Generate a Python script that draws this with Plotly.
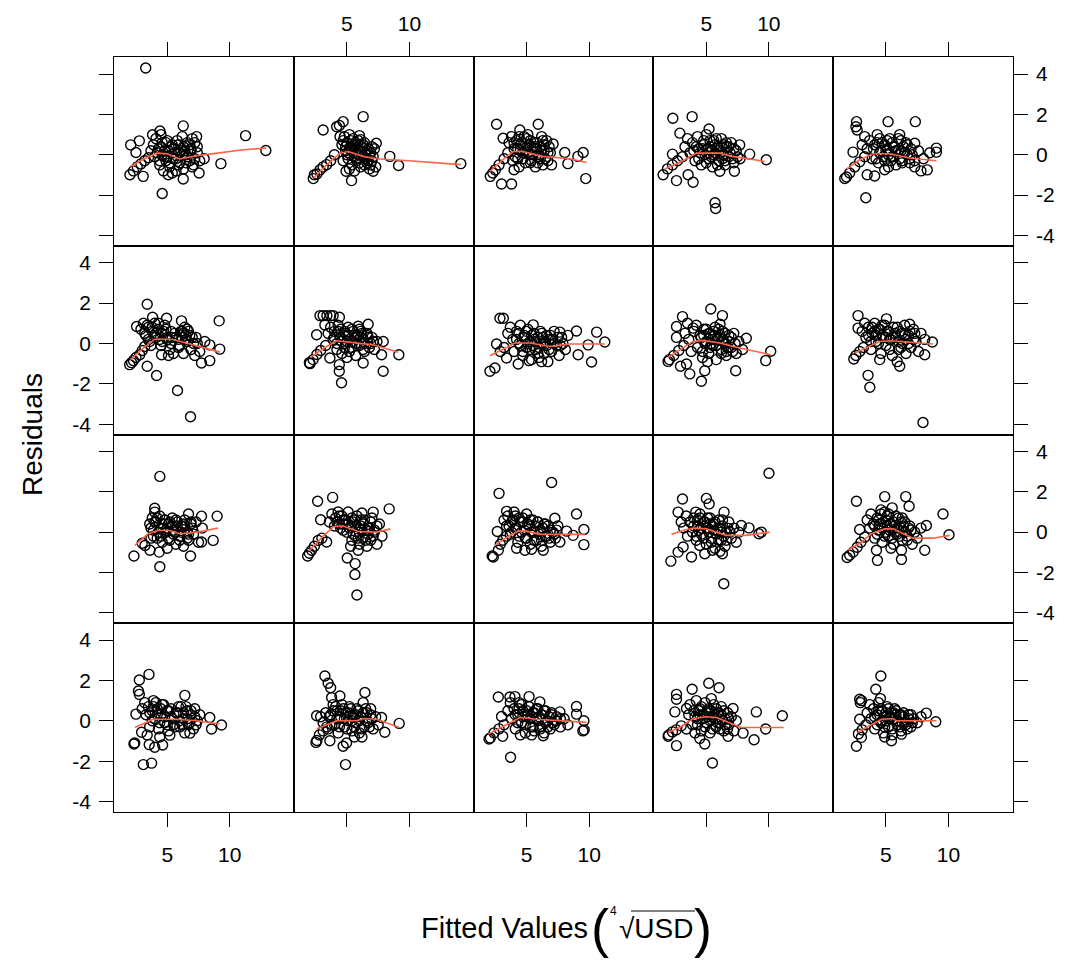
import plotly.graph_objects as go

# ---------------- data: (fitted, residual) pairs per panel ----------------
pts_r1c1 = [(3.28,4.30),(6.28,1.43),(11.26,0.95),(12.88,0.21),(9.29,-0.44),(4.6,-1.92),(2.08,0.49),(2.77,0.69),(2.5,0.11),(2.02,-0.99),(3.08,-1.07),(2.3,-0.8),(3.83,0.99),(4.42,1.18),(7.35,0.9),(7.95,-0.2),(7.55,-0.9),(6.28,-1.2),(5.08,-0.99),
            (2.6,-0.6),(2.9,-0.45),(3.2,-0.3),(3.5,-0.15),
            (3.9,0.5),(4.1,0.8),(4.3,0.3),(4.5,1.0),(4.6,0.6),(4.8,0.2),(4.9,-0.3),(5.0,0.7),(5.2,-0.6),(5.3,0.4),(5.5,-0.2),(5.6,0.1),(5.7,-0.8),(5.9,0.5),(6.0,-0.4),(6.1,0.2),(6.3,-0.7),(6.5,0.0),(6.6,0.6),(6.8,-0.3),(6.9,0.3),(7.1,-0.5),(7.2,0.6),(7.4,0.1),(7.6,-0.3),(4.4,-0.5),(4.0,-0.1),(5.4,-0.9),(6.2,0.9),(7.0,0.8),(4.7,-0.8),(3.7,0.2)]
pts_r1c2 = [(6.3,1.89),(3.1,1.23),(4.7,1.64),(4.18,1.39),(4.45,0.9),(14.1,-0.44),(9.13,-0.53),(8.43,-0.08),(7.35,0.57),(2.31,-1.18),(2.4,-0.99),(3.38,-0.49),(4.93,-0.82),(5.37,-1.28),(7.1,-0.82),(4.4,1.45),
            (2.6,-0.95),(2.85,-0.75),(3.1,-0.6),(3.7,-0.3),(4.0,0.0),
            (4.6,0.5),(4.8,0.9),(4.9,0.2),(5.0,0.6),(5.1,-0.2),(5.2,1.0),(5.3,0.4),(5.4,-0.5),(5.5,0.8),(5.6,0.1),(5.7,0.5),(5.8,-0.3),(5.9,0.7),(6.0,0.2),(6.1,-0.6),(6.2,0.4),(6.3,-0.1),(6.4,0.6),(6.5,0.0),(6.6,-0.4),(6.7,0.3),(6.8,-0.7),(6.9,0.1),(7.0,-0.3),(7.2,0.3),(7.3,-0.6),(5.2,-0.7),(4.7,-0.3),(6.0,0.95),(5.6,-0.8)]
pts_r1c3 = [(2.6,1.51),(5.93,1.51),(2.1,-1.07),(3.0,-1.45),(3.8,-1.45),(4.0,-0.74),(3.13,0.82),(4.46,1.23),(7.12,0.53),(8.05,0.11),(9.52,0.11),(9.73,-1.18),(8.3,-0.44),(9.1,-0.08),(2.3,-0.9),(2.5,-0.75),
            (2.8,-0.5),(3.2,-0.2),(3.5,0.1),
            (3.6,0.6),(3.8,0.9),(4.0,0.3),(4.2,0.7),(4.3,-0.2),(4.5,0.5),(4.7,0.1),(4.8,0.9),(4.9,-0.4),(5.0,0.4),(5.2,0.0),(5.3,0.7),(5.4,-0.3),(5.6,0.3),(5.7,-0.6),(5.8,0.6),(6.0,-0.1),(6.1,0.4),(6.3,-0.5),(6.4,0.2),(6.6,0.7),(6.7,-0.3),(6.9,0.1),(7.0,-0.5),(5.1,1.0),(4.4,-0.6),(6.2,0.9),(3.9,-0.3)]
pts_r1c4 = [(2.33,1.81),(3.87,1.89),(5.22,1.28),(5.7,-2.38),(5.75,-2.66),(1.55,-0.99),(2.62,-1.28),(3.95,-1.36),(3.55,-0.99),(9.8,-0.25),(8.47,0.03),(7.67,0.49),(2.89,1.07),(2.3,0.03),(6.08,-0.82),(7.25,-0.82),
            (1.9,-0.7),(2.3,-0.5),(2.7,-0.3),(3.1,-0.1),
            (3.3,0.4),(3.5,0.8),(3.7,0.1),(3.9,0.6),(4.1,-0.3),(4.3,0.9),(4.4,0.3),(4.6,-0.5),(4.8,0.5),(4.9,0.0),(5.0,1.0),(5.2,-0.2),(5.3,0.4),(5.5,-0.6),(5.6,0.7),(5.7,0.1),(5.9,0.4),(6.0,-0.3),(6.2,0.8),(6.3,0.0),(6.5,-0.5),(6.6,0.4),(6.8,-0.1),(7.0,0.6),(7.2,-0.4),(7.4,0.2),(7.7,-0.2),(4.0,0.2),(5.4,0.2),(6.4,0.5)]
pts_r1c5 = [(2.65,1.64),(2.6,1.39),(2.7,1.23),(5.17,1.64),(7.35,1.64),(3.39,-2.13),(1.71,-1.18),(1.85,-1.1),(2.37,0.13),(3.5,-0.99),(4.1,-1.05),(4.9,-0.74),(9.03,0.33),(9.03,0.13),(7.8,-0.8),(8.3,-0.75),(7.3,0.57),
            (2.1,-0.9),(2.5,-0.6),(2.9,-0.35),(3.3,-0.1),
            (3.1,0.5),(3.3,0.9),(3.5,0.3),(3.7,0.7),(3.9,-0.2),(4.1,0.5),(4.3,1.0),(4.5,0.1),(4.7,0.6),(4.9,-0.3),(5.1,0.3),(5.3,0.8),(5.5,-0.1),(5.6,0.4),(5.8,-0.5),(6.0,0.2),(6.2,0.7),(6.3,-0.3),(6.5,0.1),(6.7,0.5),(6.9,-0.4),(7.1,0.0),(7.3,-0.6),(7.6,0.2),(8.0,-0.2),(5.2,-0.6),(4.4,-0.4),(6.1,1.0),(8.5,0.1)]

pts_r2c1 = [(3.4,1.94),(9.15,1.12),(4.15,-1.59),(3.4,-1.13),(5.82,-2.33),(6.86,-3.63),(2.0,-1.05),(2.15,-0.95),(2.3,-0.85),(2.5,-0.7),(2.8,-0.56),(3.83,1.3),(6.14,1.12),(4.95,1.25),(2.55,0.84),(8.4,-0.85),(7.74,-0.97),(9.2,-0.28),(8.4,-0.07),(4.55,-0.56),
            (3.0,-0.35),(3.2,-0.15),
            (2.9,0.7),(3.1,1.0),(3.3,0.4),(3.5,0.8),(3.6,0.1),(3.8,0.6),(4.0,1.0),(4.1,0.3),(4.3,0.7),(4.5,-0.1),(4.6,0.5),(4.8,0.9),(5.0,0.2),(5.2,-0.3),(5.3,0.6),(5.5,-0.5),(5.7,0.3),(5.9,-0.2),(6.1,0.6),(6.2,0.3),(6.4,0.8),(6.5,0.4),(6.6,0.1),(6.7,0.6),(6.9,-0.3),(7.0,0.3),(7.2,-0.6),(7.4,0.0),(7.6,-0.4),(8.0,0.1),(6.3,-0.5),(5.1,-0.6)]
pts_r2c2 = [(2.85,1.38),(3.1,1.38),(3.4,1.38),(3.7,1.38),(3.9,1.38),(4.4,1.3),(6.7,0.95),(4.57,-1.95),(4.39,-1.38),(4.39,-1.05),(7.9,-1.38),(9.15,-0.56),(2.05,-1.0),(2.0,-0.95),(2.3,-0.8),(2.58,0.43),(3.24,0.92),(3.64,-0.72),(6.3,-0.97),(7.9,0.1),(7.77,-0.56),
            (2.6,-0.55),(2.9,-0.35),(3.3,-0.1),
            (3.5,0.5),(3.7,0.8),(3.9,0.2),(4.0,0.6),(4.2,-0.3),(4.3,0.9),(4.5,0.3),(4.6,-0.5),(4.8,0.6),(4.9,0.0),(5.1,0.4),(5.2,-0.4),(5.4,0.7),(5.5,0.1),(5.7,-0.6),(5.8,0.4),(6.0,-0.1),(6.1,0.6),(6.3,0.2),(6.4,-0.4),(6.6,0.4),(6.8,-0.2),(7.0,0.3),(7.2,-0.3),(7.4,0.1),(5.0,-0.7),(5.9,0.85)]
pts_r2c3 = [(2.87,1.25),(3.14,1.25),(2.07,-1.38),(2.47,-1.22),(2.6,-0.03),(4.33,-1.02),(3.4,-0.72),(5.53,0.92),(7.66,0.56),(8.99,0.62),(10.6,0.56),(11.25,0.07),(9.12,-0.56),(10.19,-0.92),(9.92,-0.07),(7.9,0.0),
            (2.9,-0.4),(3.2,-0.2),
            (3.5,0.5),(3.7,0.8),(3.9,0.2),(4.0,-0.4),(4.2,0.6),(4.4,0.0),(4.5,0.9),(4.7,-0.6),(4.8,0.4),(5.0,-0.2),(5.1,0.7),(5.3,0.1),(5.4,-0.8),(5.6,0.5),(5.7,-0.3),(5.9,0.3),(6.0,-0.7),(6.1,0.6),(6.3,0.0),(6.4,-0.5),(6.6,0.4),(6.7,-0.9),(6.9,0.2),(7.0,-0.4),(7.2,0.6),(7.4,-0.1),(7.6,-0.6),(7.8,0.3),(8.1,-0.3),(8.3,0.4),(6.2,-0.9),(5.2,-0.85)]
pts_r2c4 = [(5.36,1.71),(3.1,1.33),(6.29,1.38),(2.62,0.84),(2.62,0.3),(1.95,-0.89),(2.05,-0.8),(2.94,-1.13),(3.68,-1.51),(4.61,-1.87),(4.88,-1.35),(3.42,-1.02),(7.35,-1.35),(9.75,-0.85),(10.15,-0.39),(8.2,0.26),(3.95,0.76),
            (2.4,-0.6),(2.8,-0.35),(3.2,-0.1),
            (3.3,0.5),(3.5,1.0),(3.6,0.2),(3.8,-0.4),(4.0,0.6),(4.2,0.9),(4.3,-0.2),(4.5,0.4),(4.7,-0.7),(4.8,0.7),(5.0,0.1),(5.2,-0.5),(5.3,0.5),(5.5,-0.1),(5.7,0.8),(5.8,-0.8),(6.0,0.3),(6.2,-0.3),(6.3,0.6),(6.5,0.0),(6.6,-0.6),(6.8,0.4),(7.0,-0.2),(7.2,0.5),(7.4,-0.5),(7.6,0.1),(7.9,-0.3),(6.1,0.95),(5.1,-0.9)]
pts_r2c5 = [(2.77,1.38),(2.77,0.76),(3.57,-1.58),(3.71,-2.17),(7.96,-3.92),(2.43,-0.77),(8.71,0.07),(8.1,-0.56),(5.04,1.22),(6.9,0.95),(6.1,-1.13),
            (2.6,-0.6),(2.9,-0.4),(3.2,-0.2),
            (3.1,0.6),(3.3,1.0),(3.4,0.3),(3.6,0.8),(3.8,-0.3),(3.9,0.5),(4.1,1.0),(4.2,0.1),(4.4,0.7),(4.6,-0.5),(4.7,0.4),(4.9,0.9),(5.0,-0.1),(5.2,0.6),(5.3,0.2),(5.5,-0.6),(5.6,0.8),(5.8,0.3),(6.0,-0.3),(6.1,0.6),(6.3,0.0),(6.5,0.9),(6.6,-0.5),(6.8,0.4),(7.0,-0.2),(7.2,0.7),(7.4,0.1),(7.6,-0.4),(7.8,0.5),(8.1,0.2),(4.5,-0.8),(5.9,-0.9)]

pts_r3c1 = [(4.41,2.76),(2.34,-1.18),(4.41,-1.72),(6.86,-1.18),(8.67,-0.41),(8.99,0.79),(6.7,0.9),(7.74,0.79),(4.0,1.18),(4.0,0.99),(4.36,-0.99),(3.62,-0.9),(3.22,-0.66),(7.74,-0.49),(3.0,-0.55),
            (3.6,0.4),(3.8,0.7),(3.9,0.1),(4.1,0.5),(4.2,-0.3),(4.4,0.8),(4.5,0.2),(4.6,-0.5),(4.8,0.6),(4.9,0.0),(5.1,0.4),(5.2,-0.4),(5.4,0.7),(5.5,0.1),(5.7,-0.6),(5.8,0.5),(6.0,-0.2),(6.1,0.3),(6.3,-0.7),(6.4,0.6),(6.6,0.0),(6.7,-0.4),(6.9,0.4),(7.1,-0.1),(7.3,0.5),(7.5,-0.5),(7.8,0.2),(5.0,-0.8),(3.7,-0.3)]
pts_r3c2 = [(2.66,1.53),(3.86,1.72),(8.38,1.15),(2.9,0.61),(1.86,-1.18),(2.18,-0.9),(3.38,-0.49),(2.71,-0.41),(5.03,-1.28),(5.66,-1.56),(5.64,-2.1),(5.8,-3.12),(7.1,0.99),(5.9,-0.9),(2.0,-1.05),
            (2.4,-0.7),(3.0,-0.3),
            (3.6,0.5),(3.8,0.9),(4.0,0.3),(4.1,0.7),(4.3,1.0),(4.4,0.4),(4.6,0.8),(4.7,0.1),(4.9,0.6),(5.1,1.0),(5.2,0.2),(5.4,-0.4),(5.5,0.5),(5.7,-0.2),(5.8,0.8),(6.0,-0.6),(6.1,0.3),(6.3,-0.3),(6.4,0.6),(6.6,-0.7),(6.7,0.2),(6.9,-0.4),(7.0,0.7),(7.2,0.0),(7.4,-0.6),(7.6,0.4),(7.8,-0.2),(6.2,0.95),(5.3,-0.7)]
pts_r3c3 = [(7.0,2.46),(2.8,1.92),(2.66,0.03),(2.34,-1.23),(2.25,-1.18),(2.74,-0.9),(4.87,-0.9),(6.33,-0.9),(7.26,0.69),(3.4,1.03),(8.99,0.9),(9.58,0.13),(9.58,-0.62),(8.72,-0.16),(8.2,0.05),(7.66,-0.49),
            (2.9,-0.6),(3.1,-0.4),(3.4,-0.2),
            (3.2,0.6),(3.4,0.3),(3.5,0.8),(3.7,-0.1),(3.8,0.5),(4.0,1.0),(4.1,0.2),(4.3,-0.5),(4.4,0.7),(4.6,0.0),(4.7,0.5),(4.9,-0.3),(5.0,0.9),(5.2,0.3),(5.3,-0.6),(5.5,0.6),(5.6,0.0),(5.8,-0.4),(5.9,0.5),(6.1,0.1),(6.2,-0.7),(6.4,0.4),(6.5,-0.2),(6.7,0.3),(6.9,-0.5),(7.1,0.0),(7.3,-0.3),(7.5,0.3),(5.4,-0.85),(4.2,-0.8)]
pts_r3c4 = [(10.01,2.92),(3.1,1.64),(5.01,1.67),(5.23,1.4),(2.17,-1.44),(3.82,-1.23),(4.88,-1.07),(6.4,-2.56),(6.29,-1.07),(2.75,0.99),(4.16,0.99),(6.42,0.99),(7.8,0.33),(8.41,0.21),(9.2,-0.08),(9.4,0.0),(2.75,-0.99),(3.15,-0.74),(4.48,-0.66),
            (3.0,0.5),(3.2,0.2),(3.4,0.8),(3.5,-0.2),(3.7,0.5),(3.9,0.0),(4.0,0.7),(4.2,-0.4),(4.3,0.3),(4.5,0.9),(4.6,-0.1),(4.8,0.5),(5.0,-0.6),(5.1,0.2),(5.3,0.7),(5.4,-0.3),(5.6,0.4),(5.7,-0.8),(5.9,0.1),(6.0,0.6),(6.2,-0.4),(6.3,0.3),(6.5,-0.7),(6.6,0.0),(6.8,0.5),(7.0,-0.3),(7.2,0.2),(7.4,-0.5),(7.6,0.0),(6.1,-0.95),(5.5,-0.9)]
pts_r3c5 = [(2.64,1.53),(4.9,1.76),(6.58,1.76),(6.85,1.28),(9.56,0.9),(10.04,-0.13),(1.9,-1.26),(2.38,-0.99),(4.32,-1.4),(6.24,-1.35),(8.1,-0.9),(8.23,0.33),(2.9,0.13),(4.24,-0.9),(6.24,-0.9),(2.1,-1.15),
            (2.7,-0.75),(3.0,-0.5),(3.3,-0.25),
            (3.5,0.6),(3.7,0.2),(3.8,0.9),(4.0,0.4),(4.1,-0.3),(4.3,0.7),(4.4,0.1),(4.6,1.1),(4.7,-0.5),(4.8,0.5),(5.0,0.0),(5.1,0.8),(5.2,-0.2),(5.3,0.4),(5.5,1.2),(5.6,-0.6),(5.7,0.3),(5.9,-0.1),(6.0,0.7),(6.2,0.2),(6.3,-0.4),(6.5,0.5),(6.7,-0.2),(6.9,0.3),(7.1,-0.6),(7.3,0.0),(7.5,-0.3),(7.8,0.2),(5.4,-0.8),(4.9,1.0)]

pts_r4c1 = [(3.54,2.3),(2.77,2.02),(2.7,1.48),(2.77,1.31),(6.41,1.26),(2.5,0.33),(2.34,-1.15),(2.4,-1.1),(3.09,-2.17),(3.75,-2.1),(3.56,-1.18),(4.0,-1.31),(4.63,-1.2),(8.4,0.16),(8.54,-0.41),(9.34,-0.21),(6.81,-0.61),(5.21,-0.71),(2.95,-0.57),
            (3.0,0.6),(3.2,0.9),(3.3,0.3),(3.5,0.7),(3.6,-0.3),(3.8,0.5),(3.9,1.0),(4.0,0.1),(4.2,0.6),(4.3,-0.4),(4.5,0.3),(4.6,0.8),(4.8,-0.1),(5.0,0.5),(5.1,-0.5),(5.3,0.2),(5.5,-0.2),(5.8,0.4),(6.0,-0.3),(6.1,0.7),(6.3,0.1),(6.4,-0.6),(6.6,0.5),(6.7,-0.2),(6.9,0.3),(7.1,-0.4),(7.2,0.6),(7.4,0.0),(7.6,0.3),(3.4,-0.7),(4.4,-0.8)]
pts_r4c2 = [(3.24,2.22),(3.5,1.86),(3.7,1.64),(3.78,1.15),(4.44,1.23),(6.44,1.4),(4.89,-2.17),(2.53,-1.07),(2.6,-0.98),(3.64,-0.99),(4.7,-1.26),(4.97,-1.1),(8.03,-0.57),(9.18,-0.13),(7.77,0.16),(2.58,0.25),
            (2.8,-0.7),(3.1,-0.5),(3.4,-0.3),
            (2.9,0.2),(3.1,-0.1),(3.3,0.4),(3.5,-0.4),(3.7,0.3),(3.9,0.8),(4.0,-0.2),(4.2,0.5),(4.3,-0.6),(4.5,0.2),(4.6,0.8),(4.8,-0.3),(4.9,0.4),(5.1,0.0),(5.2,0.7),(5.4,-0.5),(5.5,0.3),(5.7,-0.1),(5.8,0.6),(6.0,-0.6),(6.1,0.2),(6.3,0.9),(6.4,-0.3),(6.6,0.4),(6.7,-0.1),(6.9,0.6),(7.1,-0.4),(7.3,0.2),(7.5,-0.2),(5.6,-0.8),(6.2,-0.8)]
pts_r4c3 = [(2.74,1.18),(4.07,1.2),(3.67,1.18),(5.2,1.2),(2.0,-0.9),(2.1,-0.85),(3.09,-0.77),(3.72,-1.81),(6.06,0.94),(7.66,0.44),(8.99,0.71),(8.99,0.33),(9.58,0.0),(9.6,-0.45),(9.5,-0.5),(3.0,0.21),(6.33,-0.74),
            (2.4,-0.6),(2.8,-0.4),(3.2,-0.2),
            (3.5,0.5),(3.7,0.9),(3.8,0.1),(4.0,0.6),(4.1,-0.4),(4.3,0.3),(4.4,0.9),(4.6,-0.1),(4.7,0.5),(4.9,-0.6),(5.0,0.2),(5.2,0.7),(5.3,-0.3),(5.5,0.4),(5.6,-0.5),(5.8,0.1),(5.9,0.6),(6.1,-0.3),(6.2,0.3),(6.4,-0.6),(6.5,0.5),(6.7,0.0),(6.9,-0.4),(7.0,0.3),(7.2,-0.2),(7.4,0.2),(7.7,-0.3),(8.0,0.1),(8.3,-0.2),(5.4,-0.7),(4.5,-0.7)]
pts_r4c4 = [(5.2,1.86),(6.02,1.64),(3.87,1.56),(2.62,1.31),(2.62,1.07),(2.49,0.44),(1.95,-0.77),(2.0,-0.7),(2.62,-1.23),(4.88,-1.15),(5.49,-2.09),(4.48,-0.87),(6.74,-0.77),(9.0,0.44),(8.82,-0.94),(9.75,-0.41),(11.08,0.25),(7.94,-0.61),(7.14,0.61),(3.42,0.61),(3.42,-0.41),
            (2.3,-0.55),(2.6,-0.45),(3.0,-0.25),
            (3.6,0.3),(3.7,0.8),(3.9,-0.2),(4.0,0.5),(4.2,1.0),(4.3,0.1),(4.5,0.6),(4.6,-0.5),(4.8,0.3),(4.9,0.9),(5.0,-0.1),(5.2,0.5),(5.3,-0.6),(5.5,0.2),(5.6,0.8),(5.8,-0.3),(5.9,0.4),(6.1,-0.1),(6.2,0.7),(6.4,-0.5),(6.5,0.1),(6.7,0.4),(6.8,-0.2),(7.0,0.2),(7.2,-0.5),(7.4,0.0),(5.4,1.1),(4.1,-0.6)]
pts_r4c5 = [(4.59,2.22),(4.19,1.56),(2.9,1.07),(2.95,0.9),(3.05,1.0),(4.56,1.1),(2.64,-1.26),(2.9,0.08),(3.04,-0.82),(8.23,0.38),(8.98,-0.05),(5.44,-0.99),(6.24,-0.66),
            (2.8,-0.65),(3.1,-0.45),(3.4,-0.2),
            (3.5,0.4),(3.7,0.8),(3.8,0.1),(4.0,0.6),(4.1,-0.4),(4.3,0.3),(4.4,0.9),(4.6,-0.1),(4.7,0.5),(4.8,-0.6),(5.0,0.2),(5.1,0.7),(5.2,-0.3),(5.4,0.4),(5.5,-0.7),(5.6,0.1),(5.8,0.5),(5.9,-0.2),(6.1,0.3),(6.2,-0.5),(6.4,0.2),(6.6,-0.2),(6.8,0.3),(7.0,-0.3),(7.2,0.1),(7.5,-0.1),(7.8,0.2),(4.9,-0.8)]

# dense cores of each panel (heavily overlapping points)
core_r1c1 = [(4.2,0.1),(4.5,0.4),(4.8,-0.1),(5.1,0.2),(5.4,0.5),(5.7,-0.2),(6.0,0.1),(6.3,0.4),(6.6,-0.1),(6.9,0.2),(7.2,-0.2),(4.4,-0.3),(4.9,0.6),(5.2,-0.4),(5.6,0.3),(5.9,-0.5),(6.2,0.0),(6.5,-0.4),(6.8,0.5),(7.0,-0.6),(5.0,-0.1),(5.8,0.7),(6.4,0.2),(4.6,0.0),(7.4,0.4)]
core_r1c2 = [(4.9,0.4),(5.1,0.1),(5.3,0.7),(5.4,0.2),(5.6,-0.1),(5.7,0.6),(5.9,0.3),(6.0,-0.4),(6.2,0.1),(6.3,0.5),(6.5,-0.2),(6.6,0.2),(6.8,0.0),(7.0,0.4),(5.0,0.0),(5.5,0.45),(5.8,-0.2),(6.1,0.75),(6.4,-0.5),(6.7,-0.3),(7.1,-0.1),(5.2,0.3),(4.7,0.7),(5.9,0.0),(6.9,-0.5)]
core_r1c3 = [(4.0,0.6),(4.3,0.3),(4.6,0.6),(4.9,0.2),(5.2,0.5),(5.5,0.0),(5.8,0.3),(6.1,-0.2),(6.4,0.5),(6.7,0.1),(4.1,-0.1),(4.4,0.9),(4.7,-0.2),(5.0,0.8),(5.3,-0.4),(5.6,0.6),(5.9,-0.4),(6.2,0.2),(6.5,-0.2),(6.8,0.4),(4.5,0.2),(5.1,0.1),(5.7,0.4),(6.0,0.0),(6.3,0.7)]
core_r1c4 = [(4.2,0.4),(4.5,0.1),(4.8,0.7),(5.1,0.3),(5.4,-0.1),(5.7,0.5),(6.0,0.2),(6.3,-0.2),(6.6,0.6),(6.9,0.1),(7.2,0.3),(7.5,-0.1),(4.4,-0.2),(4.7,0.3),(5.0,-0.4),(5.3,0.7),(5.6,0.0),(5.9,-0.5),(6.2,0.4),(6.5,-0.3),(6.8,0.4),(7.1,-0.2),(5.2,0.1),(5.8,0.8),(6.4,0.0)]
core_r1c5 = [(4.0,0.3),(4.3,0.6),(4.6,0.2),(4.9,0.5),(5.2,0.0),(5.5,0.6),(5.8,0.2),(6.1,-0.2),(6.4,0.4),(6.7,0.0),(7.0,0.3),(4.2,-0.2),(4.5,0.8),(4.8,-0.1),(5.1,0.7),(5.4,-0.3),(5.7,0.4),(6.0,0.8),(6.3,-0.4),(6.6,0.6),(6.9,-0.2),(5.0,0.2),(5.6,-0.1),(6.2,0.2),(7.3,-0.3)]
core_r2c1 = [(3.2,0.5),(3.5,0.2),(3.8,0.8),(4.1,0.5),(4.4,0.2),(4.7,0.6),(5.0,0.3),(5.3,0.0),(5.6,0.5),(5.9,0.2),(6.2,0.6),(6.5,0.2),(6.8,0.4),(7.1,0.0),(3.4,0.9),(3.7,-0.1),(4.0,0.4),(4.3,1.0),(4.6,0.1),(4.9,0.7),(5.4,0.3),(6.0,-0.1),(6.3,0.5),(6.6,0.7),(7.3,0.3)]
core_r2c2 = [(4.0,0.3),(4.3,0.6),(4.6,0.1),(4.9,0.5),(5.2,0.2),(5.5,0.6),(5.8,0.0),(6.1,0.3),(6.4,0.0),(6.7,0.3),(4.2,0.0),(4.5,0.7),(4.8,-0.2),(5.1,0.8),(5.4,-0.2),(5.7,0.3),(6.0,0.7),(6.3,-0.3),(6.6,0.5),(6.9,0.0),(4.4,0.4),(5.0,0.1),(5.6,0.4),(6.2,0.5),(7.1,0.1)]
core_r2c3 = [(4.2,0.2),(4.5,-0.1),(4.8,0.3),(5.1,0.0),(5.4,0.4),(5.7,0.1),(6.0,-0.2),(6.3,0.3),(6.6,-0.1),(6.9,0.4),(7.2,0.0),(7.5,0.3),(4.4,0.5),(4.7,-0.4),(5.0,0.6),(5.3,-0.3),(5.6,0.2),(5.9,-0.5),(6.2,0.5),(6.5,0.1),(6.8,-0.3),(7.1,0.2),(7.7,-0.1),(5.5,-0.1),(6.1,0.0)]
core_r2c4 = [(4.6,0.3),(4.9,0.0),(5.2,0.5),(5.5,0.2),(5.8,-0.1),(6.1,0.4),(6.4,0.1),(6.7,-0.2),(7.0,0.3),(7.3,0.0),(4.7,-0.4),(5.0,0.7),(5.3,-0.2),(5.6,0.6),(5.9,0.2),(6.2,-0.5),(6.5,0.5),(6.8,0.1),(7.1,-0.4),(5.4,0.0),(6.0,0.7),(6.6,-0.4),(5.7,0.4),(6.3,0.2),(4.8,0.4)]
core_r2c5 = [(3.6,0.4),(3.9,0.8),(4.2,0.4),(4.5,0.7),(4.8,0.3),(5.1,0.6),(5.4,0.2),(5.7,0.5),(6.0,0.1),(6.3,0.5),(6.6,0.2),(6.9,0.6),(7.2,0.2),(3.8,0.1),(4.1,0.6),(4.4,0.0),(4.7,0.9),(5.0,0.3),(5.3,-0.3),(5.6,0.3),(5.9,0.8),(6.2,-0.2),(6.5,0.4),(6.8,0.0),(7.3,0.5)]
core_r3c1 = [(3.7,0.2),(4.0,0.5),(4.3,0.0),(4.6,0.4),(4.9,0.1),(5.2,0.5),(5.5,-0.1),(5.8,0.3),(6.1,0.0),(6.4,0.3),(6.7,-0.1),(7.0,0.2),(3.9,-0.2),(4.2,0.7),(4.5,-0.2),(4.8,0.6),(5.1,-0.3),(5.4,0.3),(5.7,0.6),(6.0,-0.4),(6.3,0.4),(6.6,-0.3),(6.9,0.5),(5.0,0.2),(5.6,0.0)]
core_r3c2 = [(4.2,0.5),(4.5,0.2),(4.8,0.6),(5.1,0.4),(5.4,0.7),(5.7,0.3),(6.0,0.0),(6.3,0.4),(6.6,0.1),(6.9,0.5),(7.2,0.1),(4.4,0.8),(4.7,0.4),(5.0,0.0),(5.3,0.3),(5.6,0.6),(5.9,-0.3),(6.2,0.1),(6.5,-0.4),(6.8,0.2),(7.1,-0.2),(7.4,0.3),(5.5,-0.1),(6.1,0.6),(6.7,-0.1)]
core_r3c3 = [(3.6,0.3),(3.9,0.6),(4.2,0.2),(4.5,0.5),(4.8,0.1),(5.1,0.4),(5.4,0.0),(5.7,0.3),(6.0,-0.1),(6.3,0.2),(6.6,-0.2),(6.9,0.1),(7.2,-0.1),(3.8,0.0),(4.1,0.8),(4.4,-0.2),(4.7,0.7),(5.0,-0.3),(5.3,0.6),(5.6,-0.4),(5.9,0.5),(6.2,-0.4),(6.5,0.4),(6.8,-0.3),(7.4,0.1)]
core_r3c4 = [(4.0,0.3),(4.3,0.6),(4.6,0.2),(4.9,0.5),(5.2,0.0),(5.5,0.3),(5.8,-0.1),(6.1,0.2),(6.4,-0.2),(6.7,0.2),(4.2,-0.2),(4.5,0.7),(4.8,-0.3),(5.1,0.7),(5.4,-0.5),(5.7,0.5),(6.0,-0.4),(6.3,0.6),(6.6,-0.4),(6.9,0.0),(4.4,0.1),(5.0,0.2),(5.6,0.1),(6.2,0.0),(5.3,0.4)]
core_r3c5 = [(4.1,0.3),(4.4,0.6),(4.7,0.2),(5.0,0.6),(5.3,0.1),(5.6,0.5),(5.9,0.2),(6.2,0.5),(6.5,0.0),(6.8,0.2),(4.3,-0.1),(4.6,0.9),(4.9,-0.2),(5.2,0.9),(5.5,-0.3),(5.8,0.8),(6.1,-0.2),(6.4,0.3),(6.7,-0.4),(7.0,0.1),(4.5,0.4),(5.1,0.3),(5.7,0.0),(6.3,0.7),(5.4,0.4)]
core_r4c1 = [(3.6,0.4),(3.9,0.7),(4.2,0.3),(4.5,0.6),(4.8,0.2),(5.1,0.5),(5.4,0.1),(5.7,0.4),(6.0,0.0),(6.3,0.4),(6.6,0.1),(6.9,0.5),(7.2,0.2),(3.8,0.0),(4.1,0.9),(4.4,-0.1),(4.7,0.8),(5.0,-0.2),(5.3,0.6),(5.6,-0.3),(5.9,0.7),(6.2,-0.2),(6.5,0.7),(6.8,-0.1),(7.3,-0.2)]
core_r4c2 = [(3.6,0.2),(3.9,0.5),(4.2,0.1),(4.5,0.5),(4.8,0.1),(5.1,0.4),(5.4,0.0),(5.7,0.3),(6.0,0.0),(6.3,0.4),(6.6,0.0),(6.9,0.3),(3.8,-0.2),(4.1,0.7),(4.4,-0.3),(4.7,0.6),(5.0,-0.4),(5.3,0.6),(5.6,-0.3),(5.9,0.5),(6.2,-0.4),(6.5,0.6),(6.8,-0.3),(7.0,0.1),(5.5,0.2)]
core_r4c3 = [(4.1,0.3),(4.4,0.6),(4.7,0.2),(5.0,0.5),(5.3,0.1),(5.6,0.4),(5.9,0.0),(6.2,0.3),(6.5,-0.1),(6.8,0.2),(7.1,-0.1),(7.4,0.0),(4.3,-0.1),(4.6,0.8),(4.9,-0.2),(5.2,0.7),(5.5,-0.3),(5.8,0.6),(6.1,-0.4),(6.4,0.5),(6.7,-0.3),(7.0,0.4),(7.7,0.1),(5.1,0.3),(6.0,0.2)]
core_r4c4 = [(4.1,0.2),(4.4,0.5),(4.7,0.1),(5.0,0.4),(5.3,0.0),(5.6,0.3),(5.9,-0.1),(6.2,0.3),(6.5,-0.2),(6.8,0.1),(4.3,-0.2),(4.6,0.7),(4.9,-0.3),(5.2,0.6),(5.5,-0.4),(5.8,0.6),(6.1,-0.4),(6.4,0.5),(6.7,-0.4),(4.5,0.3),(5.1,0.2),(5.7,0.1),(6.3,0.0),(5.4,0.5),(6.0,0.4)]
core_r4c5 = [(4.1,0.2),(4.4,0.5),(4.7,0.0),(5.0,0.4),(5.3,0.1),(5.6,0.4),(5.9,0.0),(6.2,0.3),(6.5,-0.1),(6.8,0.1),(7.1,-0.1),(4.3,-0.2),(4.6,0.6),(4.9,-0.3),(5.2,0.6),(5.5,-0.4),(5.8,0.3),(6.1,-0.3),(6.4,0.4),(6.7,-0.4),(7.0,0.3),(5.0,0.0),(5.7,0.6),(6.3,-0.1),(5.4,0.2)]

# ---------------- smoother (loess) lines per panel ----------------
loess_r1c1 = ([2.08,3.0,4.15,5.0,6.0,7.35,8.4,11.07,12.9], [-0.57,-0.25,0.08,0.05,-0.21,-0.05,0.03,0.25,0.33])
loess_r1c2 = ([2.35,3.4,4.45,5.1,6.3,7.35,9.96,12.6,14.1], [-1.15,-0.49,0.08,0.16,-0.08,-0.2,-0.3,-0.44,-0.49])
loess_r1c3 = ([2.07,3.0,3.93,4.7,6.3,8.45,9.8], [-0.82,-0.3,0.16,0.16,-0.08,-0.2,-0.38])
loess_r1c4 = ([1.69,2.89,4.22,6.08,7.1,8.2,9.67], [-0.71,-0.38,0.08,0.08,-0.08,-0.2,-0.33])
loess_r1c5 = ([1.85,2.9,3.97,5.3,6.9,9.03], [-0.71,-0.25,0.05,0.05,-0.16,-0.3])
loess_r2c1 = ([2.07,3.09,4.0,5.35,6.54,8.14,9.2], [-0.8,-0.23,0.21,0.21,0.02,-0.23,-0.43])
loess_r2c2 = ([2.18,3.38,4.18,5.24,7.1,9.1], [-0.64,-0.15,0.13,0.07,-0.07,-0.44])
loess_r2c3 = ([2.07,4.07,5.27,6.86,8.46,11.25], [-0.61,0.02,0.02,-0.15,-0.03,-0.03])
loess_r2c4 = ([1.95,3.95,4.75,6.08,7.14,8.74,10.15], [-0.69,0.1,0.15,0.02,-0.15,-0.36,-0.56])
loess_r2c5 = ([2.51,4.5,5.3,7.17,8.76], [-0.48,0.1,0.13,0.05,-0.03])
loess_r3c1 = ([2.42,3.48,4.28,5.2,6.0,6.8,7.87,9.07], [-0.66,-0.08,0.08,0.08,-0.08,-0.05,0.05,0.2])
loess_r3c2 = ([2.0,3.1,3.96,4.7,5.9,7.37,8.48], [-0.9,-0.2,0.28,0.3,0.03,0.0,0.16])
loess_r3c3 = ([2.47,3.3,4.34,5.0,6.06,8.46,9.65], [-0.66,-0.3,0.05,0.05,-0.11,-0.11,-0.11])
loess_r3c4 = ([2.22,3.15,3.95,5.01,6.6,8.2,10.07], [-0.11,0.08,0.2,0.16,-0.16,-0.16,0.0])
loess_r3c5 = ([1.98,3.04,3.84,4.9,5.57,7.16,8.76,10.09], [-0.9,-0.49,-0.08,0.16,0.16,-0.3,-0.3,-0.16])
loess_r4c1 = ([2.42,3.88,5.74,7.34,9.2], [-0.33,0.08,0.08,0.0,-0.16])
loess_r4c2 = ([2.58,4.18,5.77,6.3,7.37,9.2], [-0.41,0.0,0.0,0.11,0.08,-0.33])
loess_r4c3 = ([1.94,3.4,4.47,5.8,8.46,9.79], [-0.66,-0.21,0.16,0.08,-0.05,-0.08])
loess_r4c4 = ([1.95,2.89,3.95,5.01,5.81,6.87,7.8,11.18], [-0.57,-0.33,0.11,0.2,0.16,-0.08,-0.33,-0.33])
loess_r4c5 = ([2.72,3.7,4.64,5.57,5.84,9.03], [-0.57,-0.25,0.08,0.11,0.0,0.0])

x_tickvals = [5, 10]
x_ticktext = ["5", "10"]
y_tickvals = [-4, -2, 0, 2, 4]
y_ticktext = ["-4", "-2", "0", "2", "4"]
x_title = "Fitted Values"
x_unit_index = "4"
x_unit = "\u221aUSD"
y_title = "Residuals"

panels = [
    [pts_r1c1 + core_r1c1, pts_r1c2 + core_r1c2, pts_r1c3 + core_r1c3, pts_r1c4 + core_r1c4, pts_r1c5 + core_r1c5],
    [pts_r2c1 + core_r2c1, pts_r2c2 + core_r2c2, pts_r2c3 + core_r2c3, pts_r2c4 + core_r2c4, pts_r2c5 + core_r2c5],
    [pts_r3c1 + core_r3c1, pts_r3c2 + core_r3c2, pts_r3c3 + core_r3c3, pts_r3c4 + core_r3c4, pts_r3c5 + core_r3c5],
    [pts_r4c1 + core_r4c1, pts_r4c2 + core_r4c2, pts_r4c3 + core_r4c3, pts_r4c4 + core_r4c4, pts_r4c5 + core_r4c5],
]
smooths = [
    [loess_r1c1, loess_r1c2, loess_r1c3, loess_r1c4, loess_r1c5],
    [loess_r2c1, loess_r2c2, loess_r2c3, loess_r2c4, loess_r2c5],
    [loess_r3c1, loess_r3c2, loess_r3c3, loess_r3c4, loess_r3c5],
    [loess_r4c1, loess_r4c2, loess_r4c3, loess_r4c4, loess_r4c5],
]

# ---------------- layout geometry ----------------
W, H = 1070, 963
LEFT, RIGHT, TOP, BOTTOM = 114.3, 1012.7, 57.3, 812.0
NR, NC = 4, 5
CW = (RIGHT - LEFT) / NC
RH = (BOTTOM - TOP) / NR
XR = [0.77, 15.13]
YR = [-4.52, 4.83]
FONT = "Liberation Sans, Arial, Helvetica, sans-serif"
TICKFONT = dict(family=FONT, size=21, color="black")

fig = go.Figure()
layout = dict(
    width=W, height=H, margin=dict(l=0, r=0, t=0, b=0),
    paper_bgcolor="white", plot_bgcolor="white", showlegend=False,
    font=dict(family=FONT, color="black"),
)

for r in range(NR):
    for c in range(NC):
        k = r * NC + c + 1
        sx = "" if k == 1 else str(k)
        pts = panels[r][c]
        fig.add_trace(go.Scatter(
            x=[p[0] for p in pts], y=[p[1] for p in pts], mode="markers",
            xaxis="x" + sx, yaxis="y" + sx,
            marker=dict(symbol="circle-open", size=10, color="black",
                        line=dict(width=1.4, color="black")),
            hoverinfo="skip"))
        lx, ly = smooths[r][c]
        fig.add_trace(go.Scatter(
            x=lx, y=ly, mode="lines", xaxis="x" + sx, yaxis="y" + sx,
            line=dict(color="#ff6347", width=1.6), hoverinfo="skip"))

        x0 = (LEFT + c * CW) / W
        x1 = (LEFT + (c + 1) * CW) / W
        y1 = (H - (TOP + r * RH)) / H
        y0 = (H - (TOP + (r + 1) * RH)) / H

        xa = dict(domain=[x0, x1], range=XR, anchor="y" + sx, showgrid=False,
                  zeroline=False, showline=True, linecolor="black", linewidth=1.2,
                  mirror=True, tickvals=x_tickvals, ticktext=x_ticktext,
                  tickfont=TICKFONT, tickcolor="black", tickwidth=1.2, ticklen=14,
                  automargin=False, fixedrange=True)
        if r == 0:
            xa.update(side="top", ticks="outside", showticklabels=(c in (1, 3)),
                      ticklabelstandoff=3)
        elif r == NR - 1:
            xa.update(side="bottom", ticks="outside", showticklabels=(c in (0, 2, 4)),
                      ticklabelstandoff=10)
        else:
            xa.update(ticks="", showticklabels=False)

        ya = dict(domain=[y0, y1], range=YR, anchor="x" + sx, showgrid=False,
                  zeroline=False, showline=True, linecolor="black", linewidth=1.2,
                  mirror=True, tickvals=y_tickvals, ticktext=y_ticktext,
                  tickfont=TICKFONT, tickcolor="black", tickwidth=1.2, ticklen=14,
                  automargin=False, fixedrange=True)
        if c == 0:
            ya.update(side="left", ticks="outside", showticklabels=(r in (1, 3)),
                      ticklabelstandoff=4)
        elif c == NC - 1:
            ya.update(side="right", ticks="outside", showticklabels=(r in (0, 2)),
                      ticklabelstandoff=4)
        else:
            ya.update(ticks="", showticklabels=False)

        layout["xaxis" + sx] = xa
        layout["yaxis" + sx] = ya

TF = dict(family=FONT, size=28, color="black")
XF = dict(family=FONT, size=29, color="black")
PF = dict(family=FONT, size=54, color="black")
YC = (H - 928) / H
annotations = [
    dict(text=y_title, x=32 / W, y=(H - 435) / H, xref="paper", yref="paper",
         textangle=-90, showarrow=False, font=TF, xanchor="center", yanchor="middle"),
    dict(text=x_title, x=590 / W, y=YC, xref="paper", yref="paper",
         showarrow=False, font=XF, xanchor="right", yanchor="middle"),
    dict(text="(", x=600 / W, y=YC, xref="paper", yref="paper",
         showarrow=False, font=PF, xanchor="center", yanchor="middle"),
    dict(text=x_unit_index, x=613 / W, y=(H - 911) / H, xref="paper", yref="paper",
         showarrow=False, font=dict(family=FONT, size=12, color="black"),
         xanchor="center", yanchor="middle"),
    dict(text=x_unit, x=617 / W, y=YC, xref="paper", yref="paper",
         showarrow=False, font=TF, xanchor="left", yanchor="middle"),
    dict(text=")", x=703 / W, y=YC, xref="paper", yref="paper",
         showarrow=False, font=PF, xanchor="center", yanchor="middle"),
]
layout["annotations"] = annotations
layout["shapes"] = [dict(type="line", xref="paper", yref="paper",
                         x0=631 / W, x1=695 / W, y0=(H - 911) / H, y1=(H - 911) / H,
                         line=dict(color="black", width=1.2))]

fig.update_layout(**layout)
fig.write_html("out.html", include_plotlyjs=True, config={"displayModeBar": False})
